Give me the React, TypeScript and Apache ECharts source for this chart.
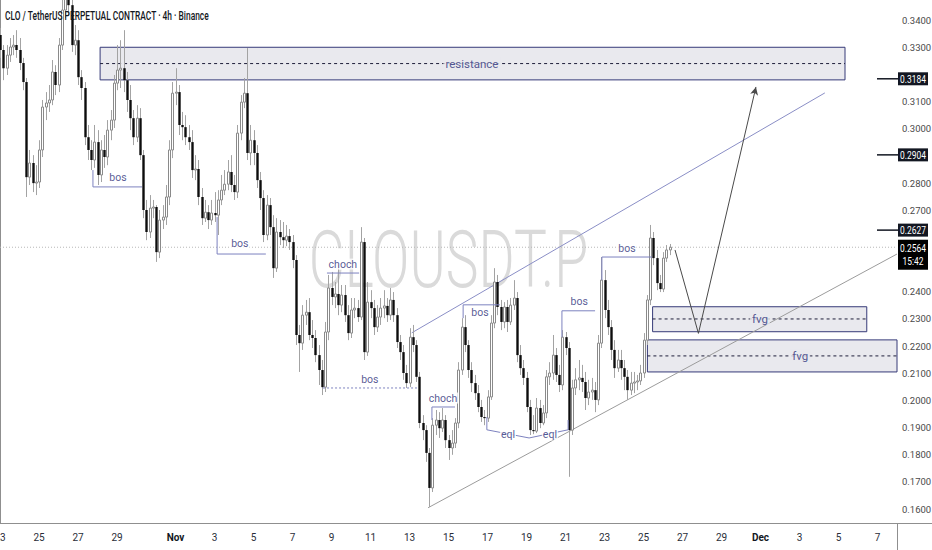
import React, { useEffect, useRef } from 'react';
import * as echarts from 'echarts';

// [open, close, low, high] per 4h candle, index 0 = 23 Oct 00:00
const ohlc: number[][] = [
  [0.3345, 0.3290, 0.3261, 0.3371], [0.3290, 0.3223, 0.3179, 0.3308], [0.3223, 0.3271, 0.3198, 0.3308], [0.3271, 0.3301, 0.3246, 0.3334],
  [0.3301, 0.3308, 0.3271, 0.3345], [0.3308, 0.3290, 0.3261, 0.3363], [0.3290, 0.3242, 0.3216, 0.3334], [0.3242, 0.3172, 0.3142, 0.3261],
  [0.3172, 0.2822, 0.2749, 0.3187], [0.2822, 0.2874, 0.2793, 0.2922], [0.2874, 0.2800, 0.2767, 0.2903], [0.2800, 0.2804, 0.2756, 0.2866],
  [0.2804, 0.2922, 0.2782, 0.2958], [0.2922, 0.3080, 0.2896, 0.3106], [0.3080, 0.3095, 0.3032, 0.3135], [0.3095, 0.3106, 0.3062, 0.3161],
  [0.3106, 0.3209, 0.3087, 0.3253], [0.3209, 0.3161, 0.3124, 0.3234], [0.3161, 0.3308, 0.3135, 0.3334], [0.3308, 0.3437, 0.3290, 0.3474],
  [0.3437, 0.3492, 0.3407, 0.3529], [0.3492, 0.3455, 0.3418, 0.3518], [0.3455, 0.3308, 0.3283, 0.3474], [0.3308, 0.3326, 0.3271, 0.3382],
  [0.3326, 0.3190, 0.3161, 0.3363], [0.3190, 0.3150, 0.3106, 0.3216], [0.3150, 0.2969, 0.2940, 0.3172], [0.2969, 0.2922, 0.2885, 0.3014],
  [0.2922, 0.2885, 0.2848, 0.2958], [0.2885, 0.2951, 0.2856, 0.3014], [0.2951, 0.2830, 0.2793, 0.2995], [0.2830, 0.2922, 0.2804, 0.2958],
  [0.2922, 0.2896, 0.2856, 0.2977], [0.2896, 0.2995, 0.2866, 0.3032], [0.2995, 0.3032, 0.2958, 0.3069], [0.3032, 0.3168, 0.3003, 0.3198],
  [0.3168, 0.3216, 0.3142, 0.3308], [0.3216, 0.3223, 0.3150, 0.3326], [0.3223, 0.3179, 0.3135, 0.3363], [0.3179, 0.3106, 0.3062, 0.3209],
  [0.3106, 0.3039, 0.2995, 0.3161], [0.3039, 0.2969, 0.2940, 0.3069], [0.2969, 0.3039, 0.2951, 0.3087], [0.3039, 0.2903, 0.2885, 0.3076],
  [0.2903, 0.2701, 0.2671, 0.2922], [0.2701, 0.2620, 0.2590, 0.2738], [0.2620, 0.2708, 0.2598, 0.2756], [0.2708, 0.2712, 0.2671, 0.2738],
  [0.2712, 0.2546, 0.2510, 0.2719], [0.2546, 0.2664, 0.2524, 0.2701], [0.2664, 0.2675, 0.2631, 0.2719], [0.2675, 0.2749, 0.2646, 0.2793],
  [0.2749, 0.2922, 0.2719, 0.2958], [0.2922, 0.3131, 0.2892, 0.3172], [0.3131, 0.3135, 0.3087, 0.3223], [0.3135, 0.3014, 0.2977, 0.3161],
  [0.3014, 0.3006, 0.2958, 0.3062], [0.3006, 0.2969, 0.2940, 0.3050], [0.2969, 0.2951, 0.2922, 0.3014], [0.2951, 0.2848, 0.2819, 0.2995],
  [0.2848, 0.2852, 0.2811, 0.2903], [0.2852, 0.2749, 0.2719, 0.2885], [0.2749, 0.2671, 0.2646, 0.2782], [0.2671, 0.2693, 0.2657, 0.2738],
  [0.2693, 0.2664, 0.2631, 0.2719], [0.2664, 0.2690, 0.2646, 0.2738], [0.2690, 0.2682, 0.2657, 0.2767], [0.2682, 0.2738, 0.2609, 0.2774],
  [0.2738, 0.2774, 0.2719, 0.2830], [0.2774, 0.2796, 0.2756, 0.2848], [0.2796, 0.2841, 0.2774, 0.2885], [0.2841, 0.2793, 0.2767, 0.2903],
  [0.2793, 0.2767, 0.2738, 0.2830], [0.2767, 0.2984, 0.2745, 0.3014], [0.2984, 0.3098, 0.2958, 0.3124], [0.3098, 0.3131, 0.3076, 0.3187],
  [0.3131, 0.2911, 0.2885, 0.3297], [0.2911, 0.2958, 0.2866, 0.3014], [0.2958, 0.2911, 0.2866, 0.2995], [0.2911, 0.2811, 0.2782, 0.2940],
  [0.2811, 0.2745, 0.2701, 0.2841], [0.2745, 0.2609, 0.2583, 0.2774], [0.2609, 0.2719, 0.2590, 0.2756], [0.2719, 0.2638, 0.2609, 0.2745],
  [0.2638, 0.2487, 0.2451, 0.2682], [0.2487, 0.2620, 0.2473, 0.2671], [0.2620, 0.2601, 0.2572, 0.2664], [0.2601, 0.2590, 0.2561, 0.2657],
  [0.2590, 0.2605, 0.2568, 0.2646], [0.2605, 0.2583, 0.2554, 0.2631], [0.2583, 0.2517, 0.2487, 0.2609], [0.2517, 0.2241, 0.2204, 0.2535],
  [0.2241, 0.2211, 0.2105, 0.2278], [0.2211, 0.2314, 0.2186, 0.2351], [0.2314, 0.2325, 0.2278, 0.2370], [0.2325, 0.2241, 0.2222, 0.2377],
  [0.2241, 0.2230, 0.2193, 0.2296], [0.2230, 0.2167, 0.2141, 0.2259], [0.2167, 0.2112, 0.2057, 0.2204], [0.2112, 0.2049, 0.2020, 0.2149],
  [0.2049, 0.2252, 0.2031, 0.2289], [0.2252, 0.2414, 0.2222, 0.2462], [0.2414, 0.2381, 0.2351, 0.2473], [0.2381, 0.2392, 0.2340, 0.2436],
  [0.2392, 0.2351, 0.2314, 0.2498], [0.2351, 0.2388, 0.2325, 0.2425], [0.2388, 0.2314, 0.2289, 0.2425], [0.2314, 0.2248, 0.2222, 0.2351],
  [0.2248, 0.2333, 0.2230, 0.2377], [0.2333, 0.2340, 0.2303, 0.2377], [0.2340, 0.2307, 0.2289, 0.2370], [0.2307, 0.2583, 0.2296, 0.2638],
  [0.2583, 0.2178, 0.2149, 0.2598], [0.2178, 0.2362, 0.2164, 0.2436], [0.2362, 0.2340, 0.2303, 0.2406], [0.2340, 0.2270, 0.2241, 0.2370],
  [0.2270, 0.2307, 0.2252, 0.2351], [0.2307, 0.2340, 0.2278, 0.2377], [0.2340, 0.2348, 0.2303, 0.2406], [0.2348, 0.2314, 0.2289, 0.2377],
  [0.2314, 0.2370, 0.2296, 0.2414], [0.2370, 0.2314, 0.2289, 0.2399], [0.2314, 0.2215, 0.2193, 0.2340], [0.2215, 0.2178, 0.2149, 0.2241],
  [0.2178, 0.2101, 0.2076, 0.2204], [0.2101, 0.2064, 0.2046, 0.2131], [0.2064, 0.2233, 0.2049, 0.2266], [0.2233, 0.2204, 0.2178, 0.2278],
  [0.2204, 0.2087, 0.2068, 0.2222], [0.2087, 0.1917, 0.1898, 0.2105], [0.1917, 0.1891, 0.1854, 0.1946], [0.1891, 0.1807, 0.1774, 0.1909],
  [0.1807, 0.1678, 0.1608, 0.1825], [0.1678, 0.1909, 0.1663, 0.1935], [0.1909, 0.1928, 0.1873, 0.1965], [0.1928, 0.1898, 0.1862, 0.1957],
  [0.1898, 0.1928, 0.1884, 0.1972], [0.1928, 0.1854, 0.1825, 0.1946], [0.1854, 0.1825, 0.1781, 0.1873], [0.1825, 0.1843, 0.1800, 0.1891],
  [0.1843, 0.1917, 0.1825, 0.1935], [0.1917, 0.2112, 0.1898, 0.2141], [0.2112, 0.2270, 0.2094, 0.2303], [0.2270, 0.2204, 0.2178, 0.2314],
  [0.2204, 0.2112, 0.2083, 0.2222], [0.2112, 0.2064, 0.2031, 0.2141], [0.2064, 0.2027, 0.2002, 0.2094], [0.2027, 0.1976, 0.1957, 0.2057],
  [0.1976, 0.1939, 0.1921, 0.2002], [0.1939, 0.1935, 0.1909, 0.1965], [0.1935, 0.2013, 0.1921, 0.2038], [0.2013, 0.2285, 0.2002, 0.2314],
  [0.2285, 0.2436, 0.2266, 0.2487], [0.2436, 0.2344, 0.2314, 0.2462], [0.2344, 0.2289, 0.2259, 0.2370], [0.2289, 0.2344, 0.2266, 0.2362],
  [0.2344, 0.2289, 0.2252, 0.2370], [0.2289, 0.2351, 0.2278, 0.2377], [0.2351, 0.2377, 0.2333, 0.2443], [0.2377, 0.2167, 0.2141, 0.2399],
  [0.2167, 0.2119, 0.2094, 0.2204], [0.2119, 0.2083, 0.2057, 0.2149], [0.2083, 0.1976, 0.1957, 0.2105], [0.1976, 0.1891, 0.1873, 0.2002],
  [0.1891, 0.1887, 0.1876, 0.1946], [0.1887, 0.1972, 0.1880, 0.2009], [0.1972, 0.1917, 0.1898, 0.2002], [0.1917, 0.1954, 0.1909, 0.1983],
  [0.1954, 0.2087, 0.1935, 0.2112], [0.2087, 0.2101, 0.2057, 0.2141], [0.2101, 0.2167, 0.2076, 0.2241], [0.2167, 0.2094, 0.2068, 0.2193],
  [0.2094, 0.2057, 0.2031, 0.2131], [0.2057, 0.2233, 0.2038, 0.2259], [0.2233, 0.2193, 0.2167, 0.2252], [0.2193, 0.1891, 0.1719, 0.2215],
  [0.1891, 0.2046, 0.1873, 0.2076], [0.2046, 0.2076, 0.2020, 0.2119], [0.2076, 0.2083, 0.2038, 0.2149], [0.2083, 0.2068, 0.2031, 0.2131],
  [0.2068, 0.2009, 0.1965, 0.2105], [0.2009, 0.2031, 0.1983, 0.2076], [0.2031, 0.2038, 0.2002, 0.2083], [0.2038, 0.2002, 0.1957, 0.2068],
  [0.2002, 0.2211, 0.1983, 0.2241], [0.2211, 0.2443, 0.2193, 0.2528], [0.2443, 0.2333, 0.2303, 0.2480], [0.2333, 0.2270, 0.2241, 0.2370],
  [0.2270, 0.2186, 0.2149, 0.2296], [0.2186, 0.2119, 0.2083, 0.2222], [0.2119, 0.2149, 0.2105, 0.2186], [0.2149, 0.2119, 0.2076, 0.2186],
  [0.2119, 0.2087, 0.2038, 0.2149], [0.2087, 0.2038, 0.2002, 0.2112], [0.2038, 0.2064, 0.2020, 0.2105], [0.2064, 0.2068, 0.2027, 0.2105],
  [0.2068, 0.2072, 0.2038, 0.2094], [0.2072, 0.2101, 0.2057, 0.2131], [0.2101, 0.2222, 0.2083, 0.2248], [0.2222, 0.2370, 0.2204, 0.2388],
  [0.2370, 0.2598, 0.2351, 0.2646], [0.2598, 0.2524, 0.2498, 0.2620], [0.2524, 0.2432, 0.2406, 0.2554], [0.2432, 0.2410, 0.2399, 0.2462],
  [0.2410, 0.2524, 0.2399, 0.2546], [0.2524, 0.2554, 0.2510, 0.2572], [0.2554, 0.2564, 0.2535, 0.2576],
];

const xTickIndex = [0, 12, 24, 36, 54, 66, 78, 90, 102, 114, 126, 138, 150, 162, 174, 186, 198, 210, 222, 234, 246, 258, 270];
const xTickText = ['23', '25', '27', '29', 'Nov', '3', '5', '7', '9', '11', '13', '15', '17', '19', '21', '23', '25', '27', '29', 'Dec', '3', '5', '7'];
const yTicks = [0.16, 0.17, 0.18, 0.19, 0.2, 0.21, 0.22, 0.23, 0.24, 0.27, 0.28, 0.3, 0.31, 0.33, 0.34];
const priceTags = [0.3184, 0.2904, 0.2627];
const lastPrice = 0.2564;
const countdown = '15:42';

// zones
const zoneStart = [30.8, 200.8, 199.2];
const zoneEnd = [260, 266.7, 276];
const zoneTop = [0.33, 0.2345, 0.2223];
const zoneBottom = [0.318, 0.2253, 0.2105];
const zoneMid = [0.324, 0.23, 0.2164];
const zoneLabelX = [145.2, 233.8, 246.2];
const zoneLabel = ['resistance', 'fvg', 'fvg'];

const channelUpper = [[126.7, 0.2249], [253.8, 0.3132]];
const channelLower = [[131.7, 0.1605], [276, 0.2539]];
const projection = [[207.7, 0.2554], [214.9, 0.2247], [232.6, 0.3154]];

const structureLines: number[][][] = [
  [[28.6, 0.2848], [28.6, 0.2786], [43.7, 0.2786]],
  [[66.8, 0.2675], [66.8, 0.2539], [81.8, 0.2539]],
  [[100.6, 0.2469], [110.5, 0.2469]],
  [[99.4, 0.2046], [128.3, 0.2046]],
  [[132.9, 0.1928], [132.9, 0.1976], [140.0, 0.1976]],
  [[142.5, 0.2303], [142.5, 0.2352], [153.8, 0.2352]],
  [[172.9, 0.2233], [172.9, 0.233], [183.1, 0.233]],
  [[185.2, 0.2443], [185.2, 0.2528], [200.6, 0.2528]],
  [[149.8, 0.1939], [149.8, 0.1892], [162.8, 0.1862]],
  [[162.8, 0.1862], [174.8, 0.1892], [174.8, 0.1928]],
];
const structureDotted = [false, false, false, true, false, false, false, false, false, false];
const structureLabels: (number | string)[][] = [
  [36.3, 0.2819, 'bos'], [73.8, 0.2576, 'bos'], [105.5, 0.2502, 'choch'], [113.8, 0.2079, 'bos'],
  [136.3, 0.2009, 'choch'], [147.7, 0.2322, 'bos'], [178.2, 0.2363, 'bos'], [192.9, 0.2561, 'bos'],
  [156.3, 0.1873, 'eql'], [169.2, 0.1873, 'eql'],
];

const FONT = 'Roboto, "Liberation Sans", sans-serif';
const BG = '#ffffff';
const NAVY = '#2c307a';
const BOXFILL = '#e9e9ee';

export default function App() {
  const ref = useRef<HTMLDivElement>(null);
  useEffect(() => {
    const chart = echarts.init(ref.current!, null, { renderer: 'svg' });
    const candleData = ohlc.map((d, i) => [i, d[0], d[1], d[2], d[3]]);

    const series: any[] = [];
    series.push({
      type: 'custom',
      name: 'CLOUSDT.P',
      clip: true,
      z: 5,
      data: candleData,
      encode: { x: 0, y: [1, 2, 3, 4] },
      renderItem: (params: any, api: any) => {
        const idx = api.value(0);
        const o = api.value(1), c = api.value(2), l = api.value(3), h = api.value(4);
        const po = api.coord([idx, o]);
        const pc = api.coord([idx, c]);
        const yl = api.coord([idx, l])[1];
        const yh = api.coord([idx, h])[1];
        const cx = Math.round(po[0]) + 0.5;
        const top = Math.min(po[1], pc[1]);
        const bot = Math.max(po[1], pc[1]);
        const hgt = Math.max(bot - top, 1);
        const up = c >= o;
        return {
          type: 'group',
          children: [
            { type: 'line', shape: { x1: cx, y1: yh, x2: cx, y2: yl }, style: { stroke: '#a3a3a3', lineWidth: 1 } },
            up
              ? { type: 'rect', shape: { x: cx - 1, y: top, width: 2, height: hgt }, style: { fill: '#ffffff', stroke: '#8a8a8a', lineWidth: 1 } }
              : { type: 'rect', shape: { x: cx - 1.2, y: top, width: 2.4, height: hgt }, style: { fill: '#0d0d0d' } },
          ],
        };
      },
    });

    zoneStart.forEach((x0, k) => {
      series.push({
        type: 'line',
        silent: true,
        z: 3,
        symbol: 'none',
        data: [[x0, zoneMid[k]], [zoneEnd[k], zoneMid[k]]],
        lineStyle: { color: '#1e1e3a', width: 1, type: [3, 3] },
        markArea: {
          silent: true,
          itemStyle: { color: BOXFILL, borderColor: '#363a78', borderWidth: 1 },
          data: [[{ coord: [x0, zoneTop[k]] }, { coord: [zoneEnd[k], zoneBottom[k]] }]],
        },
      });
    });

    series.push({ type: 'line', silent: true, z: 4, symbol: 'none', data: channelUpper, lineStyle: { color: '#8a8ec6', width: 1 } });
    series.push({ type: 'line', silent: true, z: 4, symbol: 'none', data: channelLower, lineStyle: { color: '#9c9c9c', width: 1 } });

    series.push({
      type: 'line', silent: true, z: 6, symbol: 'none',
      data: projection.slice(0, 2),
      lineStyle: { color: '#4a4a4a', width: 1 },
      markLine: {
        silent: true,
        symbol: ['none', 'arrow'],
        symbolSize: [6, 8],
        lineStyle: { color: '#4a4a4a', width: 1, type: 'solid' },
        label: { show: false },
        data: [[{ coord: projection[1] }, { coord: projection[2] }]],
      },
    });

    structureLines.forEach((pts, k) => {
      series.push({
        type: 'line', silent: true, z: 6, symbol: 'none', data: pts,
        lineStyle: { color: '#7d82bf', width: 1, type: structureDotted[k] ? [2, 2] : 'solid' },
      });
    });

    series.push({
      type: 'scatter', silent: true, z: 8, symbolSize: 1,
      itemStyle: { color: 'rgba(0,0,0,0)' },
      data: structureLabels,
      label: {
        show: true, position: 'inside', formatter: (p: any) => p.value[2],
        color: NAVY, fontSize: 10.5, fontFamily: FONT,
        backgroundColor: BG, padding: [0, 1],
      },
    });
    series.push({
      type: 'scatter', silent: true, z: 8, symbolSize: 1,
      itemStyle: { color: 'rgba(0,0,0,0)' },
      data: zoneLabelX.map((x, k) => [x, zoneMid[k], zoneLabel[k]]),
      label: {
        show: true, position: 'inside', formatter: (p: any) => p.value[2],
        color: NAVY, fontSize: 11.5, fontFamily: FONT,
        backgroundColor: BOXFILL, padding: [0, 2],
      },
    });

    series.push({
      type: 'line', silent: true, z: 2, symbol: 'none',
      data: [[0, lastPrice], [276, lastPrice]],
      lineStyle: { color: '#b8b8b8', width: 1, type: [1, 2] },
    });

    const option: any = {
      animation: false,
      backgroundColor: BG,
      grid: { left: 0, top: 0, right: 35, bottom: 27, containLabel: false, outerBoundsMode: 'none' },
      xAxis: {
        type: 'value', min: 0, max: 276,
        axisLine: { show: true, lineStyle: { color: '#8f8f8f' } },
        axisTick: { show: false },
        splitLine: { show: false },
        axisLabel: {
          customValues: xTickIndex,
          formatter: (v: number) => {
            const k = xTickIndex.indexOf(Math.round(v));
            if (k < 0) return '';
            const t = xTickText[k];
            return t === 'Nov' || t === 'Dec' ? '{b|' + t + '}' : t;
          },
          color: '#2a2e39', fontSize: 10, fontFamily: FONT, margin: 9,
          rich: { b: { fontWeight: 'bold', color: '#131722', fontSize: 10, fontFamily: FONT } },
        },
      },
      yAxis: {
        type: 'value', position: 'right', min: 0.1549, max: 0.3474, scale: true,
        axisLine: { show: true, lineStyle: { color: '#8f8f8f' } },
        axisTick: { show: false },
        splitLine: { show: false },
        axisLabel: {
          customValues: yTicks,
          formatter: (v: number) => v.toFixed(4),
          color: '#4a4a4a', fontSize: 9.5, fontFamily: FONT, margin: 5,
        },
      },
      series,
    };
    chart.setOption(option);

    const graphics: any[] = [
      {
        type: 'text', x: 448.5, y: 260, scaleX: 0.69, silent: true, z: 1,
        style: { text: 'CLOUSDT.P', font: '300 80px Roboto', fill: '#dadada', align: 'center', verticalAlign: 'middle' },
      },
      {
        type: 'text', x: 5, y: 16, scaleX: 0.7, silent: true, z: 100,
        style: { text: 'CLO / TetherUS PERPETUAL CONTRACT · 4h · Binance', font: '500 12px Roboto', fill: '#131722', verticalAlign: 'middle' },
      },
      { type: 'line', silent: true, z: 100, shape: { x1: 897.5, y1: 523, x2: 897.5, y2: 550 }, style: { stroke: '#8f8f8f', lineWidth: 1 } },
      { type: 'line', silent: true, z: 100, shape: { x1: 897, y1: 523.5, x2: 932, y2: 523.5 }, style: { stroke: '#8f8f8f', lineWidth: 1 } },
    ];
    priceTags.forEach((p) => {
      const y = chart.convertToPixel({ yAxisIndex: 0 }, p) as number;
      graphics.push({ type: 'line', silent: true, z: 100, shape: { x1: 877, y1: y, x2: 898, y2: y }, style: { stroke: '#131722', lineWidth: 1.5 } });
      graphics.push({ type: 'rect', silent: true, z: 100, shape: { x: 898, y: y - 6.5, width: 30, height: 13 }, style: { fill: '#131722' } });
      graphics.push({
        type: 'text', silent: true, z: 101, x: 913, y: y + 0.5, scaleX: 0.8,
        style: { text: p.toFixed(4), font: '10.5px Roboto', fill: '#ffffff', align: 'center', verticalAlign: 'middle' },
      });
    });
    const yl = chart.convertToPixel({ yAxisIndex: 0 }, lastPrice) as number;
    graphics.push({ type: 'rect', silent: true, z: 100, shape: { x: 898, y: yl - 7.5, width: 30, height: 30 }, style: { fill: '#000000' } });
    graphics.push({
      type: 'text', silent: true, z: 101, x: 913, y: yl + 0.5, scaleX: 0.8,
      style: { text: lastPrice.toFixed(4), font: '10.5px Roboto', fill: '#ffffff', align: 'center', verticalAlign: 'middle' },
    });
    graphics.push({
      type: 'text', silent: true, z: 101, x: 913, y: yl + 14, scaleX: 0.8,
      style: { text: countdown, font: '10.5px Roboto', fill: '#ffffff', align: 'center', verticalAlign: 'middle' },
    });
    chart.setOption({ graphic: graphics });

    return () => chart.dispose();
  }, []);
  return <div ref={ref} style={{ position: 'fixed', left: 0, top: 0, width: 932, height: 550 }} />;
}
